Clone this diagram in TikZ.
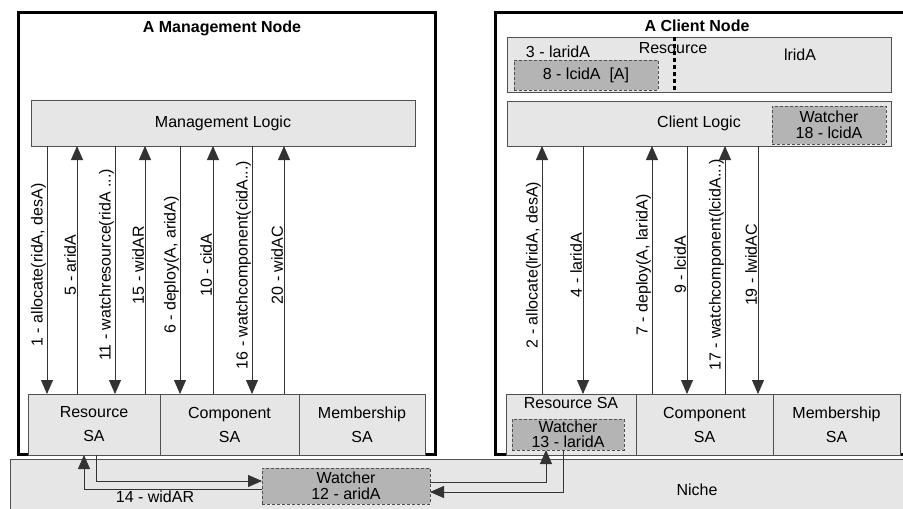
\documentclass[tikz,border=0pt]{standalone}
\usepackage{fontspec}
\setmainfont{Liberation Sans}
\usetikzlibrary{arrows.meta}
\definecolor{boxfill}{HTML}{E6E6E6}
\definecolor{wfill}{HTML}{B4B4B4}
\definecolor{edgec}{HTML}{505050}
\begin{document}
\begin{tikzpicture}[x=1pt,y=-1pt,
  every node/.style={font=\fontsize{16}{19}\selectfont, inner sep=0pt, outer sep=0pt},
  box/.style={draw=edgec, fill=boxfill, line width=0.8pt, anchor=north west},
  sabox/.style={box, align=center, font=\fontsize{16}{24}\selectfont},
  wbox/.style={draw=edgec, fill=wfill, line width=0.8pt, dash pattern=on 3pt off 2pt, anchor=north west, align=center, font=\fontsize{16}{15.5}\selectfont},
  host/.style={draw=black, line width=3pt, fill=white},
  msg/.style={draw=black!80, line width=0.9pt, -{Triangle[width=12pt,length=14pt]}},
  lbl/.style={rotate=90, anchor=south, inner sep=1pt},
  ttl/.style={font=\bfseries\fontsize{16}{19}\selectfont},
]
\useasboundingbox (0,0) rectangle (903,509);
\begin{scope}
\clip (0,0) rectangle (903,509);
% niche
\node[box, minimum width=960, minimum height=100, anchor=north west] (niche) at (10,459) {};
\node (nichet) at (697,490) {Niche};
% hosts
\draw[host] (18,12.5) rectangle (435.5,454.5);
\draw[host] (495,12.5) rectangle (940,454.5);
\node[ttl] (mttl) at (222,28) {A Management Node};
\node[ttl] (cttl) at (697,26) {A Client Node};
% management node
\node[box, minimum width=384, minimum height=46] (mlogic) at (31,100) {Management Logic};
\node[sabox, minimum width=132, minimum height=61] (mres) at (28,394) {Resource\\SA};
\node[sabox, minimum width=139, minimum height=61] (mcomp) at (160,394) {Component\\SA};
\node[sabox, minimum width=126, minimum height=61] (mmem) at (299,394) {Membership\\SA};
% client node
\node[box, minimum width=384, minimum height=55] (cresbox) at (507,37) {};
\node (t3) at (558,52) {3 - laridA};
\node (tres) at (673,48) {Resource};
\node (tlrid) at (800,55) {lridA};
\node[wbox, minimum width=144, minimum height=30] (w8) at (514,60) {8 - lcidA~~[A]};
\coordinate (dl) at (674,0);
\draw[line width=3pt, dash pattern=on 4pt off 3pt] (cresbox.north -| dl) -- (cresbox.south -| dl);
\node[box, minimum width=384, minimum height=45] (clogic) at (507,101) {Client Logic};
\node[wbox, minimum width=114, minimum height=38] (w18) at (772,106) {Watcher\\18 - lcidA};
\node[box, minimum width=130, minimum height=61] (cres) at (506,394) {};
\node (tcres) at (571,403) {Resource SA};
\node[wbox, minimum width=112, minimum height=31] (w13) at (512,419) {Watcher\\13 - laridA};
\node[sabox, minimum width=137, minimum height=61] (ccomp) at (636,394) {Component\\SA};
\node[sabox, minimum width=127, minimum height=61] (cmem) at (773,394) {Membership\\SA};
% niche watcher
\node[wbox, minimum width=168, minimum height=36] (w12) at (262,468) {Watcher\\12 - aridA};
% management messages
\coordinate (a1) at (47,265);
\coordinate (a5) at (77,265);
\coordinate (a11) at (115,265);
\coordinate (a15) at (145,265);
\coordinate (a6) at (180,265);
\coordinate (a10) at (213,265);
\coordinate (a16) at (252,265);
\coordinate (a20) at (284,265);
\draw[msg] (mlogic.south -| a1) -- (mres.north -| a1);
\draw[msg] (mres.north -| a5) -- (mlogic.south -| a5);
\draw[msg] (mlogic.south -| a11) -- (mres.north -| a11);
\draw[msg] (mres.north -| a15) -- (mlogic.south -| a15);
\draw[msg] (mlogic.south -| a6) -- (mcomp.north -| a6);
\draw[msg] (mcomp.north -| a10) -- (mlogic.south -| a10);
\draw[msg] (mlogic.south -| a16) -- (mcomp.north -| a16);
\draw[msg] (mcomp.north -| a20) -- (mlogic.south -| a20);
\node[lbl] (l1) at (a1) {1 - allocate(ridA, desA)};
\node[lbl] (l5) at (a5) {5 - aridA};
\node[lbl] (l11) at (a11) {11 - watchresource(ridA ...)};
\node[lbl] (l15) at (a15) {15 - widAR};
\node[lbl] (l6) at (a6) {6 - deploy(A, aridA)};
\node[lbl] (l10) at (a10) {10 - cidA};
\node[lbl] (l16) at (a16) {16 - watchcomponent(cidA...)};
\node[lbl] (l20) at (a20) {20 - widAC};
% client messages
\coordinate (b2) at (542,265);
\coordinate (b4) at (583,265);
\coordinate (b7) at (652,265);
\coordinate (b9) at (687,265);
\coordinate (b17) at (725,265);
\coordinate (b19) at (758,265);
\draw[msg] (cres.north -| b2) -- (clogic.south -| b2);
\draw[msg] (clogic.south -| b4) -- (cres.north -| b4);
\draw[msg] (ccomp.north -| b7) -- (clogic.south -| b7);
\draw[msg] (clogic.south -| b9) -- (ccomp.north -| b9);
\draw[msg] (ccomp.north -| b17) -- (clogic.south -| b17);
\draw[msg] (clogic.south -| b19) -- (ccomp.north -| b19);
\node[lbl] (l2) at (b2) {2 - allocate(lridA, desA)};
\node[lbl] (l4) at (b4) {4 - laridA};
\node[lbl] (l7) at (b7) {7 - deploy(A, laridA)};
\node[lbl] (l9) at (b9) {9 - lcidA};
\node[lbl] (l17) at (b17) {17 - watchcomponent(lcidA...)};
\node[lbl] (l19) at (b19) {19 - lwidAC};
% niche messages
\coordinate (n1) at (96,481);
\coordinate (n2) at (84,489);
\coordinate (n3) at (546,482);
\coordinate (n4) at (563,492);
\draw[msg] (mres.south -| n1) |- (w12.west |- n1);
\draw[msg] (w12.west |- n2) -| (mres.south -| n2);
\draw[msg] (w12.east |- n3) -| (w13.south -| n3);
\draw[msg] (w13.south -| n4) |- (w12.east |- n4);
\node (l14) at (155,497) {14 - widAR};
\end{scope}
\end{tikzpicture}
\end{document}
